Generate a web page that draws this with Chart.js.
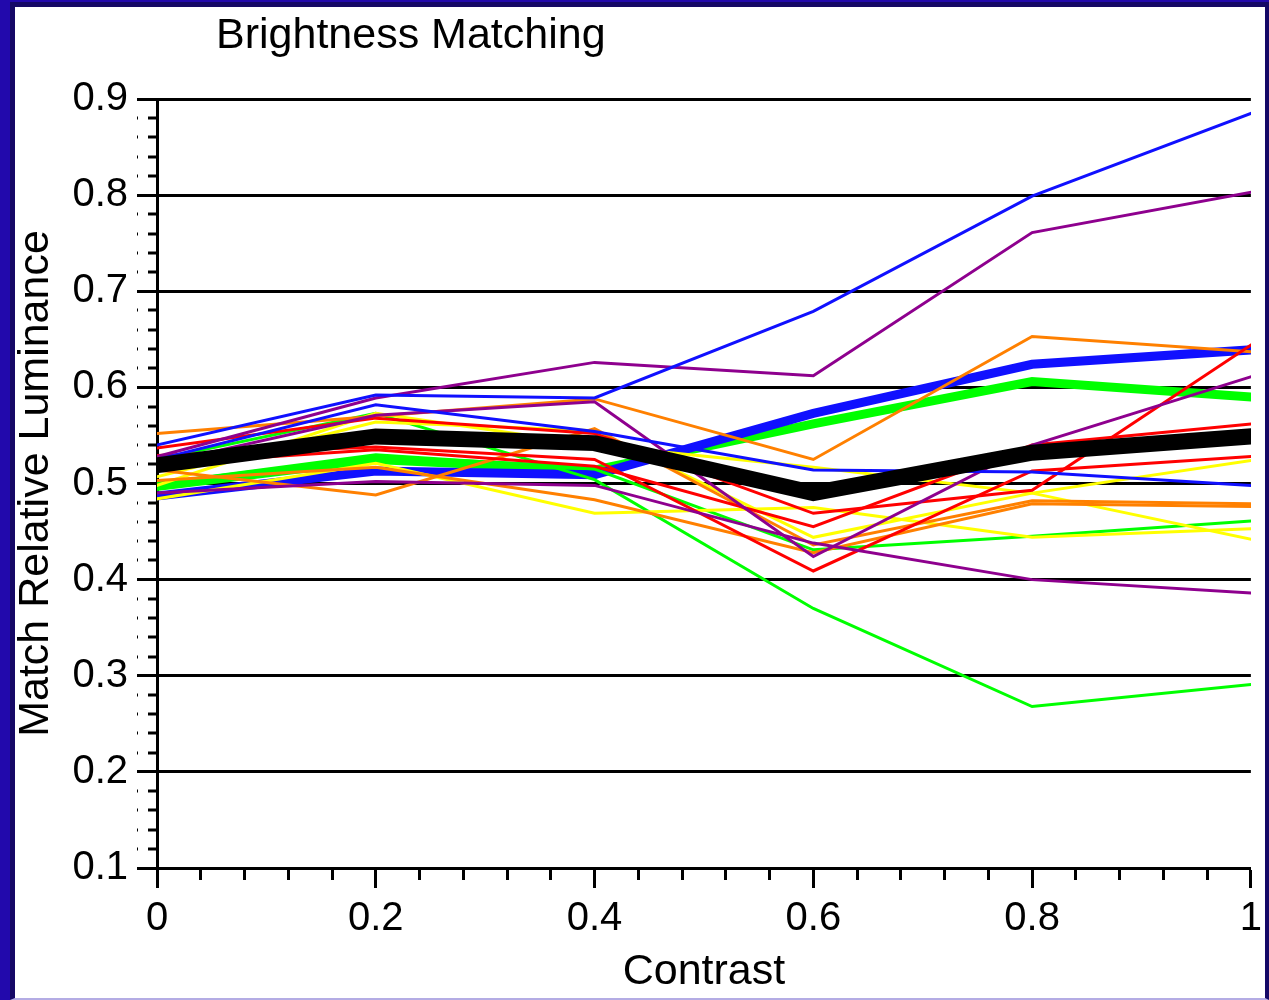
<!DOCTYPE html>
<html>
<head>
<meta charset="utf-8">
<script src="https://cdn.jsdelivr.net/npm/chart.js@4.4.0/dist/chart.umd.min.js"></script>
<style>
html, body { margin:0; padding:0; }
body { width:1269px; height:1000px; background:#2209ac; position:relative; overflow:hidden; }
#panel { position:absolute; left:10px; top:2px; width:1250px; height:991px; background:#fff;
  border-left:5px solid #150866; border-top:5px solid #150866; border-right:4px solid #150866; border-bottom:2px solid #b4ace4; }
canvas { display:block; }
</style>
</head>
<body>
<div id="panel"><canvas id="myChart" width="1250" height="991"></canvas></div>
<script>
var chartTitle = 'Brightness Matching';
var xTitle = 'Contrast';
var yTitle = 'Match Relative Luminance';

// x values (contrast)
var contrast = [0, 0.2, 0.4, 0.6, 0.8, 1];

// single observers, thin lines
var blue1   = [0.540, 0.592, 0.589, 0.679, 0.799, 0.885];
var blue2   = [0.525, 0.582, 0.554, 0.514, 0.512, 0.498];
var purple1 = [0.528, 0.589, 0.626, 0.612, 0.761, 0.803];
var purple2 = [0.490, 0.502, 0.498, 0.438, 0.400, 0.386];
var purple3 = [0.520, 0.571, 0.585, 0.424, 0.540, 0.611];
var red1    = [0.537, 0.568, 0.552, 0.469, 0.493, 0.644];
var red2    = [0.520, 0.535, 0.518, 0.455, 0.540, 0.562];
var red3    = [0.529, 0.538, 0.525, 0.409, 0.513, 0.528];
var orange1 = [0.552, 0.570, 0.588, 0.525, 0.653, 0.637];
var orange2 = [0.514, 0.488, 0.557, 0.436, 0.482, 0.479];
var orange3 = [0.503, 0.517, 0.483, 0.428, 0.479, 0.476];
var yellow1 = [0.498, 0.573, 0.540, 0.517, 0.490, 0.442];
var yellow2 = [0.507, 0.564, 0.555, 0.444, 0.490, 0.524];
var yellow3 = [0.484, 0.521, 0.469, 0.475, 0.444, 0.453];
var green1  = [0.525, 0.573, 0.504, 0.370, 0.268, 0.291];
var green2  = [0.500, 0.530, 0.515, 0.431, 0.445, 0.461];

// group means, thick lines
var blueMean  = [0.487, 0.513, 0.509, 0.573, 0.624, 0.639];
var greenMean = [0.497, 0.525, 0.514, 0.562, 0.606, 0.590];
var allMean   = [0.519, 0.549, 0.542, 0.490, 0.532, 0.549];

// ticks
var xTicks = [0, 0.2, 0.4, 0.6, 0.8, 1];
var xTickLabels = ['0', '0.2', '0.4', '0.6', '0.8', '1'];
var yTicks = [0.1, 0.2, 0.3, 0.4, 0.5, 0.6, 0.7, 0.8, 0.9];
var yTickLabels = ['0.1', '0.2', '0.3', '0.4', '0.5', '0.6', '0.7', '0.8', '0.9'];

function pts(vals) {
  return vals.map(function (v, i) { return { x: contrast[i], y: v }; });
}

function line(vals, color, width, order) {
  return {
    data: pts(vals),
    borderColor: color,
    borderWidth: width,
    order: order,
    pointRadius: 0,
    tension: 0,
    fill: false,
    borderCapStyle: 'square',
    borderJoinStyle: 'miter'
  };
}

// major ticks with labels plus unlabeled minor ticks in between
function withMinor(major, labels, parts) {
  var out = [];
  for (var i = 0; i < major.length; i++) {
    out.push({ value: major[i], isMajor: true, text: labels[i] });
    if (i < major.length - 1) {
      var step = (major[i + 1] - major[i]) / parts;
      for (var k = 1; k < parts; k++) out.push({ value: major[i] + step * k, isMajor: false, text: '' });
    }
  }
  return out;
}

function isMajor(ctx) { return ctx.tick && ctx.tick.isMajor; }

var titlePlugin = {
  id: 'topTitle',
  afterDraw: function (chart) {
    var c = chart.ctx;
    c.save();
    c.font = '43px "Liberation Sans", Arial, sans-serif';
    c.fillStyle = '#000';
    c.textBaseline = 'alphabetic';
    c.textAlign = 'left';
    c.fillText(chartTitle, 201, 41);
    c.restore();
  }
};

var yTickFont = { family: '"Liberation Sans", Arial, sans-serif', size: 40, lineHeight: 1 };
var xTickFont = { family: '"Liberation Sans", Arial, sans-serif', size: 40, lineHeight: 1.4 };
var titleFont = { family: '"Liberation Sans", Arial, sans-serif', size: 43, lineHeight: 1 };

var canvas = document.getElementById('myChart');
var myLineChart = new Chart(canvas, {
  type: 'line',
  data: {
    datasets: [
      line(allMean, '#000000', 16, 0),
      line(blue1, '#1010ff', 3, 1),
      line(blue2, '#1010ff', 3, 1),
      line(purple1, '#8e008e', 3, 1),
      line(purple2, '#8e008e', 3, 1),
      line(purple3, '#8e008e', 3, 1),
      line(red1, '#ff0000', 3, 1),
      line(red2, '#ff0000', 3, 1),
      line(red3, '#ff0000', 3, 1),
      line(orange1, '#ff8000', 3, 1),
      line(orange2, '#ff8000', 3, 1),
      line(orange3, '#ff8000', 3, 1),
      line(yellow1, '#ffff00', 3, 1),
      line(yellow2, '#ffff00', 3, 1),
      line(yellow3, '#ffff00', 3, 1),
      line(green1, '#00ff00', 3, 1),
      line(green2, '#00ff00', 3, 1),
      line(blueMean, '#1010ff', 9, 2),
      line(greenMean, '#00ff00', 9, 2)
    ]
  },
  options: {
    responsive: false,
    animation: false,
    layout: { padding: { top: 92, right: 14, left: 0, bottom: 0 } },
    plugins: { legend: { display: false }, tooltip: { enabled: false } },
    scales: {
      x: {
        type: 'linear',
        min: 0,
        max: 1,
        afterBuildTicks: function (s) { s.ticks = withMinor(xTicks, xTickLabels, 5); },
        afterFit: function (s) { s.height = 130; },
        border: { color: '#000', width: 3 },
        grid: {
          drawOnChartArea: false,
          tickLength: 20,
          tickColor: '#000',
          tickWidth: 3,
          tickBorderDash: function (ctx) { return isMajor(ctx) ? [] : [10, 40]; }
        },
        ticks: {
          autoSkip: false,
          maxRotation: 0,
          padding: 3,
          color: '#000',
          font: xTickFont,
          callback: function (v, i, ticks) { return ticks[i].text; }
        },
        title: { display: true, text: xTitle, color: '#000', font: titleFont, padding: { top: 0, bottom: 4 } }
      },
      y: {
        type: 'linear',
        min: 0.1,
        max: 0.9,
        afterBuildTicks: function (s) { s.ticks = withMinor(yTicks, yTickLabels, 5); },
        afterFit: function (s) { s.width = 142; },
        border: { color: '#000', width: 3 },
        grid: {
          tickLength: 20,
          color: function (ctx) { return isMajor(ctx) ? '#000' : 'rgba(0,0,0,0)'; },
          lineWidth: function (ctx) { return isMajor(ctx) ? 3 : 0; },
          tickColor: '#000',
          tickWidth: 3,
          tickBorderDash: function (ctx) { return isMajor(ctx) ? [] : [10, 10]; },
          tickBorderDashOffset: function (ctx) { return isMajor(ctx) ? 0 : 9; }
        },
        ticks: {
          autoSkip: false,
          padding: 9,
          color: '#000',
          font: yTickFont,
          callback: function (v, i, ticks) { return ticks[i].text; }
        },
        title: { display: true, text: yTitle, color: '#000', font: titleFont, padding: { top: 0, bottom: 0 } }
      }
    }
  },
  plugins: [titlePlugin]
});
</script>
</body>
</html>
